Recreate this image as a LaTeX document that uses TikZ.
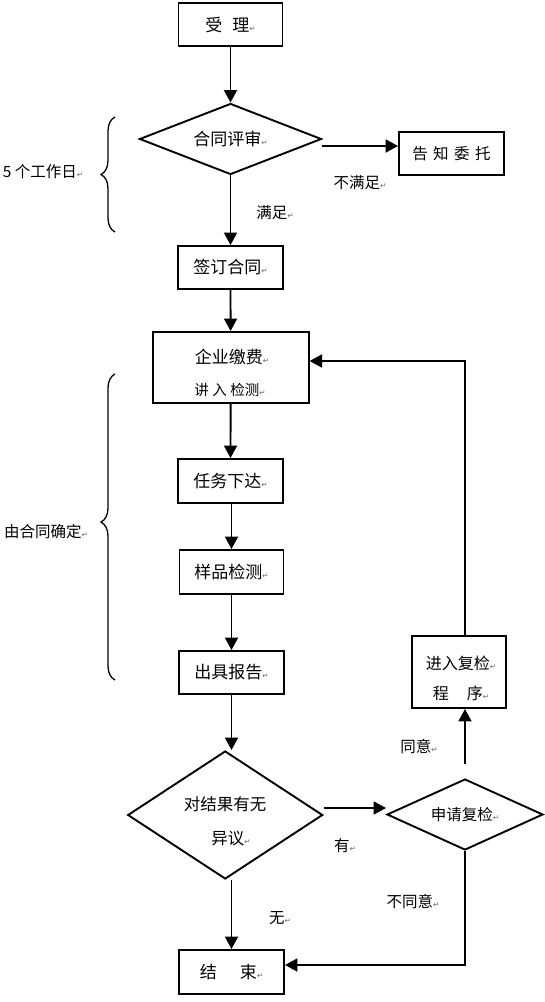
\documentclass[tikz,border=0pt]{standalone}
\usepackage{fontspec}
\setmainfont{Noto Sans CJK SC}
\newfontfamily\dejavu{DejaVu Sans}
\usetikzlibrary{arrows.meta,shapes.geometric,decorations.pathreplacing}
\newcommand\retmark{{\dejavu\fontsize{7.5}{7.5}\selectfont\color{black!60}↵}}
\begin{document}
\begin{tikzpicture}[x=1pt,y=-1pt,
  box/.style={draw, line width=1.9pt, inner sep=0pt, font=\fontsize{17}{20}\selectfont},
  dia/.style={draw, diamond, line width=1.9pt, inner sep=0pt},
  txt/.style={inner sep=0pt, font=\fontsize{17}{20}\selectfont},
  lbl/.style={inner sep=0pt, font=\fontsize{15.5}{18}\selectfont},
  arr/.style={-{Triangle[length=12.5pt,width=13pt]}, line width=1.9pt},
  brc/.style={decorate, line width=1.3pt}]
\fill[white] (0,0) rectangle (545,1002);
\useasboundingbox (0,0) rectangle (545,1002);

% boxes
\node[box, minimum width=104pt, minimum height=43pt] (shouli) at (230.5,24.5) {受\hspace{10pt}理\retmark};
\node[dia, aspect=2.56, minimum width=182pt, minimum height=71pt, font=\fontsize{17}{20}\selectfont] (pingshen) at (230.5,139) {合同评审\retmark};
\node[box, minimum width=105pt, minimum height=43pt, font=\fontsize{15.5}{18}\selectfont] (gaozhi) at (451.5,153.5) {告\hspace{5.5pt}知\hspace{5.5pt}委\hspace{5.5pt}托};
\node[box, minimum width=104.5pt, minimum height=43pt] (qianding) at (230.5,267.5) {签订合同\retmark};
\node[box, minimum width=156pt, minimum height=71pt] (qiye) at (230.6,367.5) {};
\node[txt] (qiye1) at (232,356.5) {企业缴费\retmark};
\node[txt, font=\fontsize{14.5}{17}\selectfont] (qiye2) at (230,390) {讲\hspace{3.5pt}入\hspace{3.5pt}检测\retmark};
\node[box, minimum width=105pt, minimum height=44pt] (renwu) at (230.5,481) {任务下达\retmark};
\node[box, minimum width=104pt, minimum height=44pt] (yangpin) at (231.5,572) {样品检测\retmark};
\node[box, minimum width=105pt, minimum height=43pt] (chuju) at (231.5,672.5) {出具报告\retmark};
\node[box, minimum width=94pt, minimum height=72pt] (jinru) at (459,672) {};
\node[txt, font=\fontsize{16}{19}\selectfont] (jinru1) at (461,663) {进入复检\retmark};
\node[txt, font=\fontsize{16}{19}\selectfont] (jinru2) at (461,693) {程\hspace{18pt}序\retmark};
\node[dia, aspect=1.52, minimum width=195pt, minimum height=128pt] (duijie) at (225.2,815) {};
\node[txt, font=\fontsize{16.5}{19}\selectfont] (duijie1) at (225,804) {对结果有无};
\node[txt, font=\fontsize{16.5}{19}\selectfont] (duijie2) at (231,838) {异议\retmark};
\node[dia, aspect=2.2, minimum width=156pt, minimum height=71pt, font=\fontsize{15.5}{18}\selectfont] (shenqing) at (465,814.5) {申请复检\retmark};
\node[box, minimum width=105pt, minimum height=44pt] (jieshu) at (231.5,972) {结\hspace{23pt}束\retmark};

% labels
\node[lbl] (l1) at (360,183) {不满足\retmark};
\node[lbl] (l2) at (275,213) {满足\retmark};
\node[lbl] (l3) at (43,172) {5 个工作日\retmark};
\node[lbl] (l4) at (46,532) {由合同确定\retmark};
\node[lbl] (l5) at (419,747) {同意\retmark};
\node[lbl] (l6) at (345,846) {有\retmark};
\node[lbl] (l7) at (413,902) {不同意\retmark};
\node[lbl] (l8) at (280,918) {无\retmark};

% braces
\draw[brc, decoration={brace, amplitude=14pt}] (115,232) -- (115,117);
\draw[brc, decoration={brace, amplitude=14pt, aspect=0.516}] (115,680) -- (115,374);

% connectors
\draw[arr] (shouli.south) -- (pingshen.north);
\draw[arr] ([yshift=-7pt]pingshen.east) -- ([yshift=-7pt]pingshen.east -| gaozhi.west);
\draw[arr] (pingshen.south) -- (qianding.north);
\draw[arr] (qianding.south) -- (qiye.north);
\draw[arr] (qiye.south) -- (renwu.north);
\draw[arr] (yangpin.north |- renwu.south) -- (yangpin.north);
\draw[arr] (yangpin.south) -- (chuju.north);
\draw[arr] (chuju.south) -- (chuju.south |- duijie.north);
\draw[arr] (jieshu.north |- duijie.south) -- (jieshu.north);
\draw[arr] ([yshift=7pt]duijie.east) -- ([yshift=7pt]duijie.east -| shenqing.west);
\draw[arr] ([yshift=14pt]shenqing.north) -- (shenqing.north |- jinru.south);
\draw[arr] (shenqing.north |- jinru.north) |- ([yshift=6.5pt]qiye.east);
\draw[arr] (shenqing.south) |- ([yshift=7pt]jieshu.east);
\end{tikzpicture}
\end{document}
